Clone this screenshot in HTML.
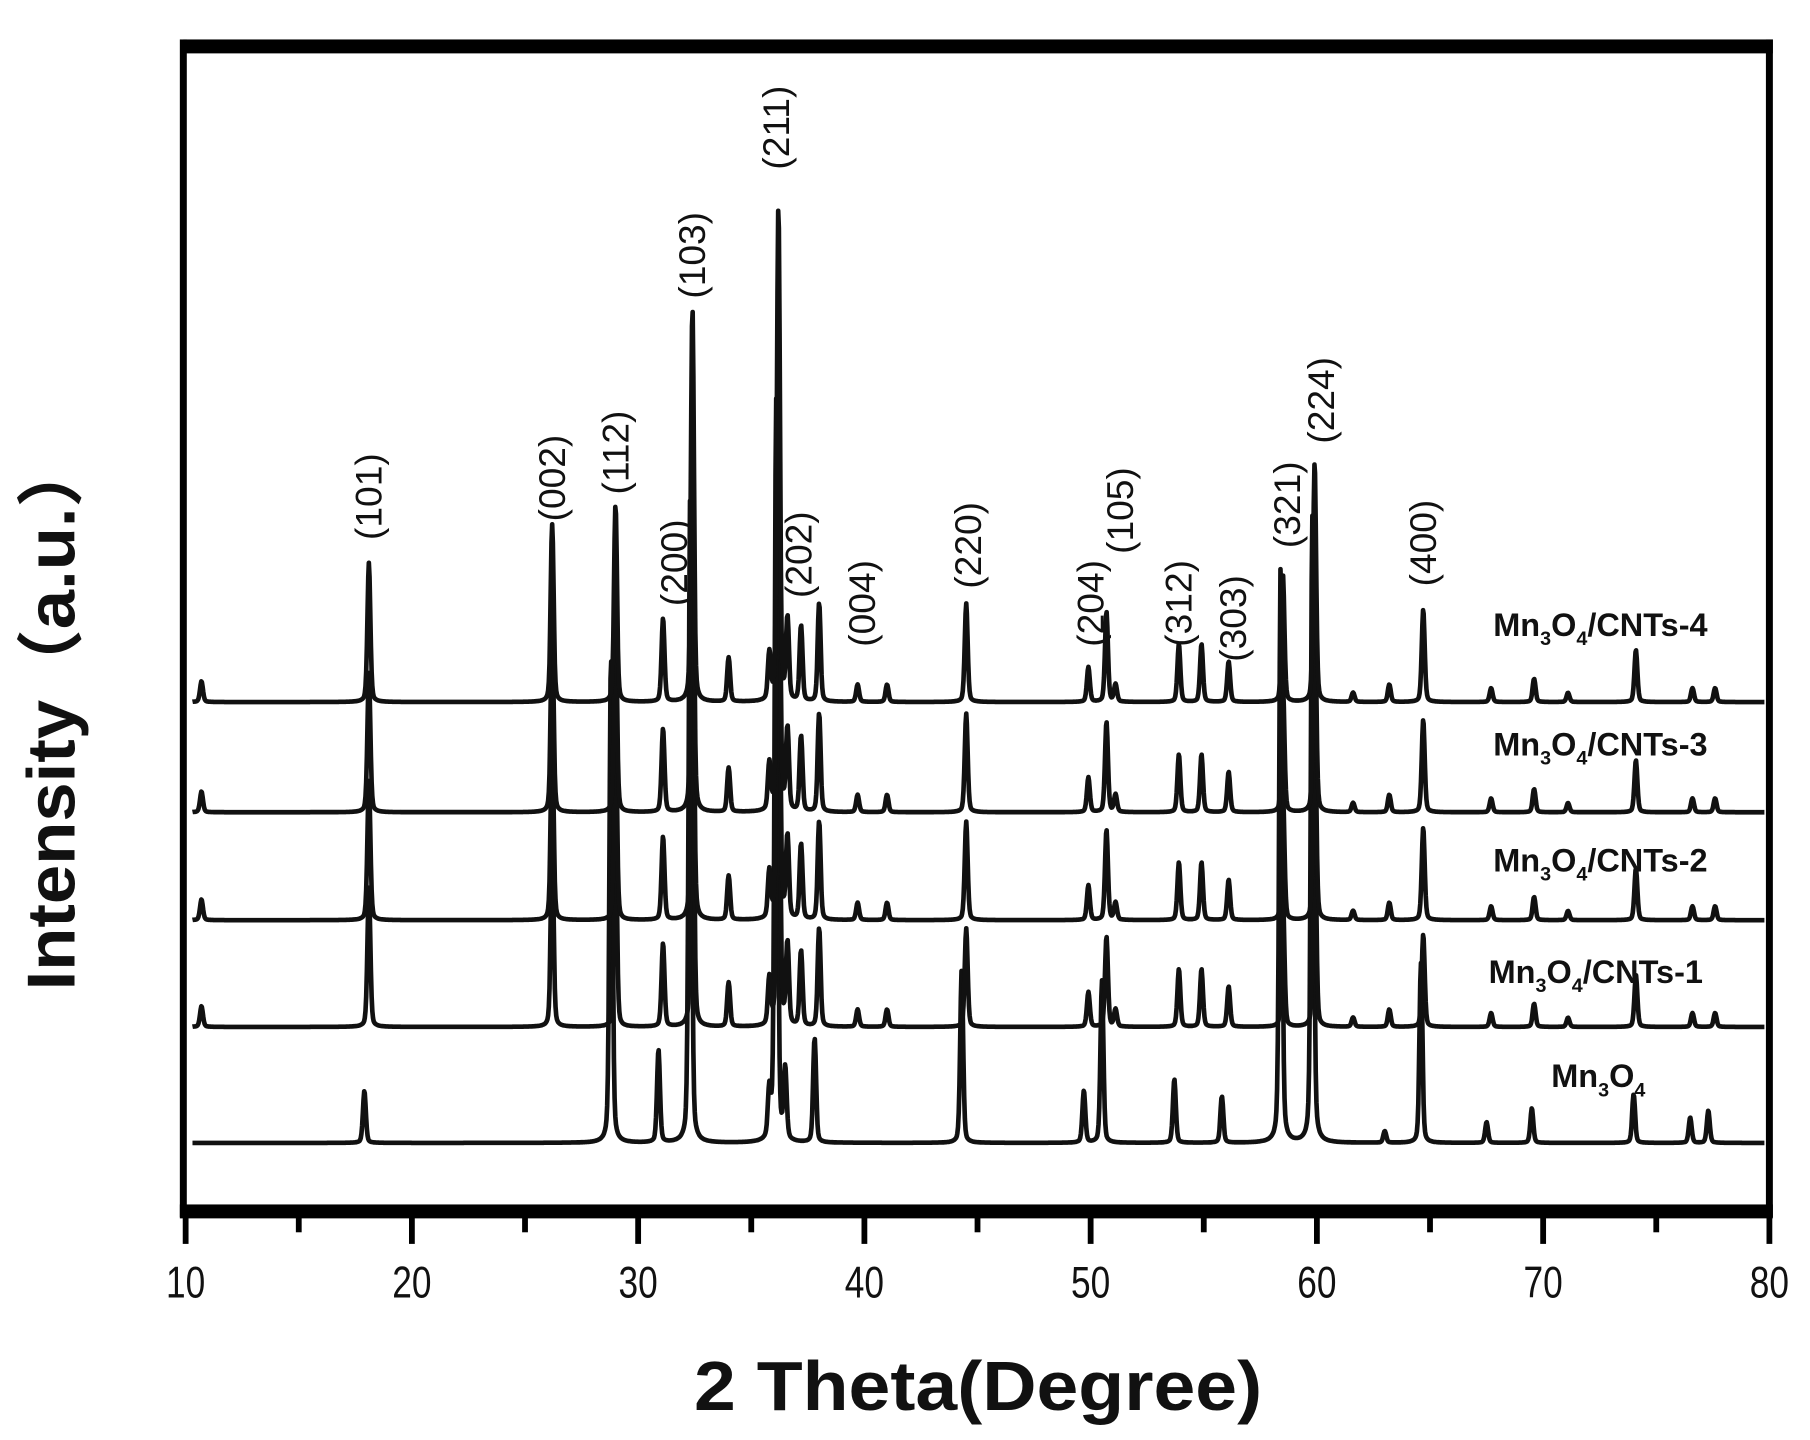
<!DOCTYPE html>
<html><head><meta charset="utf-8"><style>
html,body{margin:0;padding:0;background:#fff;}
svg{display:block;}
text{font-family:"Liberation Sans","Noto Sans CJK SC",sans-serif;fill:#111;}
</style></head><body>
<svg id="chart" width="1810" height="1440" viewBox="0 0 1560 1241" preserveAspectRatio="none" xmlns="http://www.w3.org/2000/svg">
<g id="frame">
  <rect x="158" y="34" width="1370" height="12" fill="#000"/>
  <rect x="155" y="34" width="6" height="1015" fill="#000"/>
  <rect x="1522" y="34" width="6" height="1015" fill="#000"/>
  <rect x="155" y="1038" width="1373" height="12" fill="#000"/>
</g>
<g id="ticks"></g>
<g id="series"></g>
<g id="peaklabels"></g>
<text x="843" y="1215" text-anchor="middle" font-size="60" font-weight="bold" transform="translate(843 0) scale(1.08 1) translate(-843 0)">2 Theta(Degree)</text>
<text x="0" y="0" text-anchor="middle" font-size="58" font-weight="bold" transform="translate(64 615) rotate(-90) scale(1.05 1)">Intensity（a.u.）</text>
<g font-size="28" font-weight="bold">
  <text x="1287" y="548">Mn<tspan font-size="17" dy="8">3</tspan><tspan dy="-8">O</tspan><tspan font-size="17" dy="8">4</tspan><tspan dy="-8">/CNTs-4</tspan></text>
  <text x="1287" y="651">Mn<tspan font-size="17" dy="8">3</tspan><tspan dy="-8">O</tspan><tspan font-size="17" dy="8">4</tspan><tspan dy="-8">/CNTs-3</tspan></text>
  <text x="1287" y="751">Mn<tspan font-size="17" dy="8">3</tspan><tspan dy="-8">O</tspan><tspan font-size="17" dy="8">4</tspan><tspan dy="-8">/CNTs-2</tspan></text>
  <text x="1283" y="847">Mn<tspan font-size="17" dy="8">3</tspan><tspan dy="-8">O</tspan><tspan font-size="17" dy="8">4</tspan><tspan dy="-8">/CNTs-1</tspan></text>
  <text x="1337" y="937">Mn<tspan font-size="17" dy="8">3</tspan><tspan dy="-8">O</tspan><tspan font-size="17" dy="8">4</tspan></text>
</g>
</svg>
<script>
// data arrays
var xTicks = [10,20,30,40,50,60,70,80];
var minorTicks = [15,25,35,45,55,65,75];
var seriesNames = ["Mn3O4","CNTs-1","CNTs-2","CNTs-3","CNTs-4"];
var seriesOffsets = [0, 1, 2, 3, 4]; // stacking index
var cntPeakPos = [10.7,18.1,26.2,29.0,31.1,32.4,34.0,35.8,36.2,36.6,37.2,38.0,39.7,41.0,44.5,49.9,50.7,51.1,53.9,54.9,56.1,58.5,59.9,61.6,63.2,64.7,67.7,69.6,71.1,74.1,76.6,77.6];
var cntPeakInt = [18,120,153,170,72,340,38,40,427,70,65,85,15,15,85,30,78,15,50,50,35,110,207,8,15,80,12,20,8,45,12,12];
var mnPeakPos = [17.9,28.8,30.9,32.3,35.8,36.1,36.5,37.8,44.3,49.7,50.5,53.7,55.8,58.4,59.8,63.0,64.6,67.5,69.5,74.0,76.5,77.3];
var mnPeakInt = [45,420,80,560,40,640,60,90,150,45,140,55,40,500,540,10,155,18,30,42,22,28];
var peakLabels = ["(101)","(002)","(112)","(200)","(103)","(211)","(202)","(004)","(220)","(204)","(105)","(312)","(303)","(321)","(224)","(400)"];
var peakLabelX = [18.1,26.2,29.0,31.6,32.4,36.1,37.1,39.9,44.6,50.0,51.3,53.9,56.3,58.7,60.2,64.7];
var peakLabelY = [428,412,390,485,220,110,478,520,470,520,440,520,533,435,345,468];

var NS="http://www.w3.org/2000/svg";
function xs(v){return 160+(v-10)*(1525-160)/70;}
var baseY=[985,885,793,700,605];
function yv(idx,val){return baseY[idx]-val;}
function mk(tag,attrs,parent){var e=document.createElementNS(NS,tag);for(var k in attrs)e.setAttribute(k,attrs[k]);parent.appendChild(e);return e;}

var tg=document.getElementById('ticks');
xTicks.forEach(function(t){
  var l=mk('line',{x1:xs(t),x2:xs(t),y1:1048,y2:1072,stroke:'#000','stroke-width':5},tg);
  
  
  var tx=mk('text',{x:xs(t),y:1118,'text-anchor':'middle','font-size':38,transform:'translate('+xs(t)+' 0) scale(0.8 1) translate('+(-xs(t))+' 0)'},tg);
  tx.textContent=t;
  
  
});
minorTicks.forEach(function(t){
  var l=mk('line',{x1:xs(t),x2:xs(t),y1:1048,y2:1062,stroke:'#000','stroke-width':5},tg);
  
  
});

function profile(pos,ints,x){
  var s=0;
  for(var i=0;i<pos.length;i++){var d=(x-pos[i])/0.09;s+=ints[i]*(0.75*Math.exp(-d*d)+0.25/(1+d*d));}
  return s;
}
var sg=document.getElementById('series');
seriesNames.forEach(function(name,si){
  var pos=si===0?mnPeakPos:cntPeakPos, ints=si===0?mnPeakInt:cntPeakInt;
  var d='';
  for(var x=10.3;x<=79.8;x+=0.03){
    var v=profile(pos,ints,x);
    d+=(d?'L':'M')+xs(x).toFixed(1)+' '+Math.max(50,yv(seriesOffsets[si],v)).toFixed(1);
  }
  var p=mk('path',{d:d,fill:'none',stroke:'#111','stroke-width':4,'stroke-linejoin':'round'},sg);
  
  
});

var pg=document.getElementById('peaklabels');
peakLabels.forEach(function(lb,i){
  var cx=xs(peakLabelX[i]), cy=peakLabelY[i];
  var t=mk('text',{x:0,y:11,'text-anchor':'middle','font-size':32,transform:'translate('+cx+' '+cy+') rotate(-90)'},pg);
  t.textContent=lb;
  
  
});
</script>
</body></html>
